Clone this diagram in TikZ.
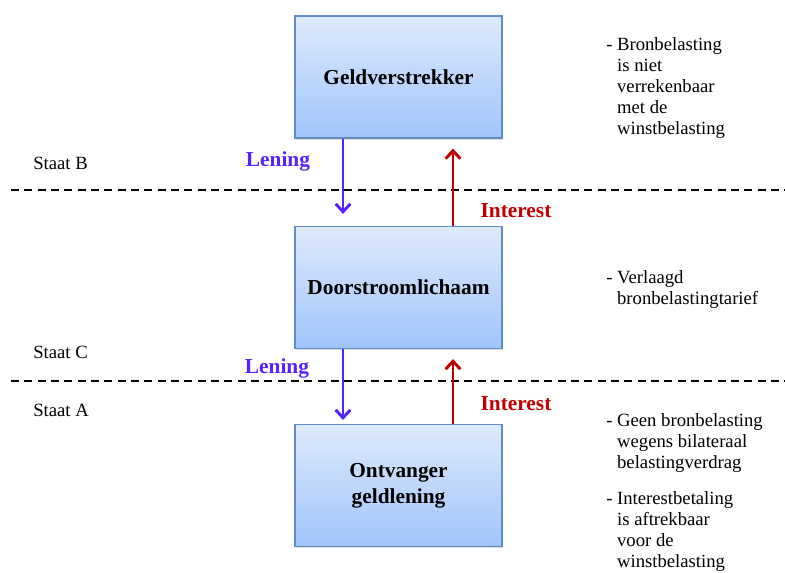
\documentclass[tikz,border=0pt]{standalone}
\usepackage{fontspec}
\setmainfont{Liberation Serif}
\usetikzlibrary{calc,arrows.meta,shadows}

\definecolor{boxtop}{RGB}{222,234,253}
\definecolor{boxbot}{RGB}{160,196,250}
\definecolor{boxline}{RGB}{96,140,200}
\definecolor{leningblue}{RGB}{86,34,255}
\definecolor{interestred}{RGB}{192,0,0}

\tikzset{
  box/.style={draw=boxline, line width=0.8pt, top color=boxtop, bottom color=boxbot,
    minimum width=155.25pt, minimum height=91.5pt, align=center,
    font=\fontsize{16}{19.5}\selectfont\bfseries,
    drop shadow={shadow xshift=1pt, shadow yshift=-1.2pt, opacity=0.25}},
  leningarrow/.style={leningblue, line width=2.2pt, -{Straight Barb[length=6pt,width=11pt]}},
  interestarrow/.style={interestred, line width=2.2pt, -{Straight Barb[length=6pt,width=11pt]}},
  border/.style={black, line width=1.6pt, dash pattern=on 6pt off 4pt},
  note/.style={anchor=north west, inner sep=0pt, align=left,
    font=\fontsize{14}{15.75}\selectfont},
  staat/.style={anchor=north west, inner sep=0pt, font=\fontsize{14}{16}\selectfont},
}

\begin{document}
\begin{tikzpicture}[x=0.75pt,y=0.75pt,yscale=-1,xscale=1]
        \clip (0,0) rectangle (785,572);

        %Boxes
        \node [box] (geld) at (398.5,77) {Geldverstrekker};
        \node [box] (door) at (398.5,287.5) {Doorstroomlichaam};
        \node [box] (ontv) at (398.5,485.5) {Ontvanger\\geldlening};

        %Dashed borders
        \coordinate (bl) at (11,190);
        \coordinate (br) at (785,190);
        \coordinate (cl) at (11,381);
        \coordinate (cr) at (785,381);
        \draw [border] (bl) -- (br);
        \draw [border] (cl) -- (cr);

        %Loan and interest arrows
        \draw [leningarrow, shorten >=9pt] ($(geld.south)+(-55.5,0)$) -- ($(door.north)+(-55.5,0)$);
        \draw [interestarrow, shorten >=7.5pt] ($(door.north)+(54.5,0)$) -- ($(geld.south)+(54.5,0)$);
        \draw [leningarrow, shorten >=3pt] ($(door.south)+(-55.5,0)$) -- ($(ontv.north)+(-55.5,0)$);
        \draw [interestarrow, shorten >=7.5pt] ($(ontv.north)+(54.5,0)$) -- ($(door.south)+(54.5,0)$);

        % Text Node
        \node [anchor=center, text=leningblue, font=\fontsize{16}{19}\selectfont\bfseries] (len1) at (278,161) {Lening};
        % Text Node
        \node [anchor=center, text=interestred, font=\fontsize{16}{19}\selectfont\bfseries] (int1) at (516,211) {Interest};
        % Text Node
        \node [anchor=center, text=leningblue, font=\fontsize{16}{19}\selectfont\bfseries] (len2) at (277,368) {Lening};
        % Text Node
        \node [anchor=center, text=interestred, font=\fontsize{16}{19}\selectfont\bfseries] (int2) at (516,404) {Interest};

        % Text Node
        \node [staat] (staatb) at (33,157) {Staat B};
        % Text Node
        \node [staat] (staatc) at (33,346) {Staat C};
        % Text Node
        \node [staat] (staata) at (33,404) {Staat A};

        % Text Node
        \node [note] (notegeld) at (606,37) {- Bronbelasting\\\phantom{-\ }is niet\\\phantom{-\ }verrekenbaar\\\phantom{-\ }met de\\\phantom{-\ }winstbelasting};
        % Text Node
        \node [note] (notedoor) at (606,270) {- Verlaagd\\\phantom{-\ }bronbelastingtarief};
        % Text Node
        \node [note] (noteontv) at (606,413) {- Geen bronbelasting\\\phantom{-\ }wegens bilateraal\\\phantom{-\ }belastingverdrag};
        % Text Node
        \node [note] (noteaftrek) at (606,491) {- Interestbetaling\\\phantom{-\ }is aftrekbaar\\\phantom{-\ }voor de\\\phantom{-\ }winstbelasting};

\end{tikzpicture}
\end{document}
